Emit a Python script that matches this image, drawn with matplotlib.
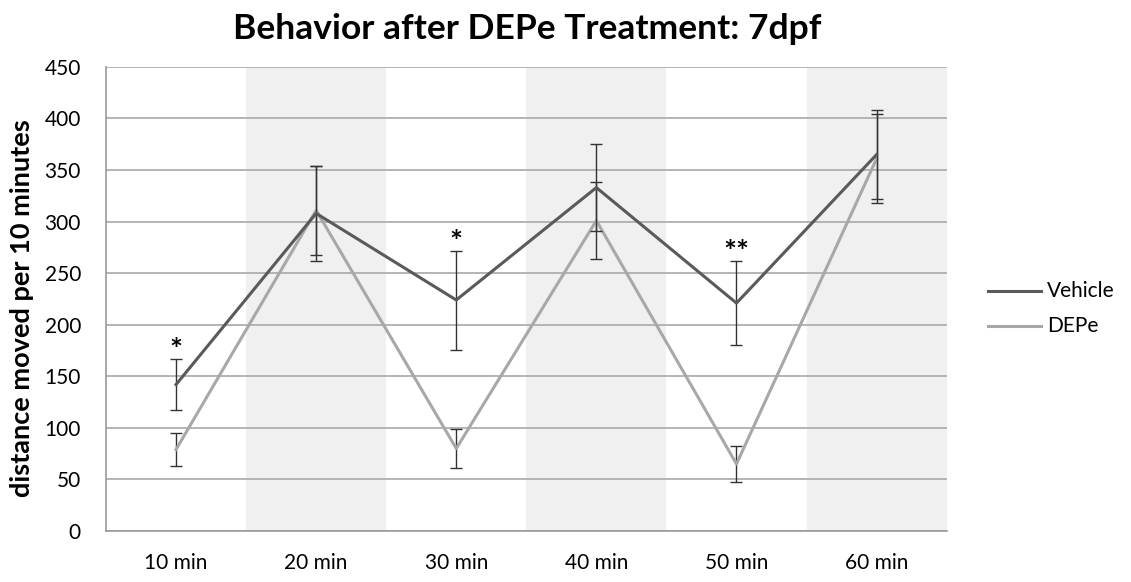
import matplotlib
matplotlib.use("Agg")
import matplotlib.pyplot as plt
from matplotlib.lines import Line2D
import numpy as np

categories = ["10 min", "20 min", "30 min", "40 min", "50 min", "60 min"]
vehicle = [142, 308, 224, 333, 221, 365]
vehicle_err = [25, 46, 48, 42, 41, 43]
depe = [79, 311, 80, 301, 65, 361]
depe_err = [16, 43, 19, 37, 17, 43]
stars = {0: "*", 2: "*", 4: "**"}
yticks = [0, 50, 100, 150, 200, 250, 300, 350, 400, 450]
series_names = ["Vehicle", "DEPe"]
series_colors = ["#5a5a5a", "#a8a8a8"]

plt.rcParams['font.family'] = ['Lato', 'DejaVu Sans']

fig = plt.figure(figsize=(11.31, 5.82), dpi=100)
ax = fig.add_axes([0.0937, 0.0876, 0.7433, 0.7974])

x = np.arange(len(categories))
ax.set_xlim(-0.5, len(categories) - 0.5)
ax.set_ylim(0, 450)

for i in range(1, len(categories), 2):
    ax.axvspan(i - 0.5, i + 0.5, color="#f0f0f0", zorder=0, lw=0)

ax.set_yticks(yticks)
ax.yaxis.grid(True, color="#a8a8a8", lw=1.2, zorder=1)
ax.set_axisbelow(True)

ax.errorbar(x, vehicle, yerr=vehicle_err, color=series_colors[0], lw=2.2,
            ecolor="#333333", elinewidth=1.0, capsize=4.5, capthick=1.0,
            zorder=3)
ax.errorbar(x, depe, yerr=depe_err, color=series_colors[1], lw=2.2,
            ecolor="#333333", elinewidth=1.0, capsize=4.5, capthick=1.0,
            zorder=2)

for i, s in stars.items():
    ax.text(x[i], vehicle[i] + vehicle_err[i] - 6, s, ha="center", va="bottom",
            fontsize=22, fontweight="bold", color="black", zorder=4)

ax.set_xticks(x)
ax.set_xticklabels(categories, fontsize=15)
ax.tick_params(axis="y", labelsize=15, length=0, pad=18)
ax.tick_params(axis="x", length=0, pad=16)

for s in ["top", "right"]:
    ax.spines[s].set_visible(False)
for s in ["left", "bottom"]:
    ax.spines[s].set_color("#9a9a9a")
    ax.spines[s].set_linewidth(1.2)

ax.set_ylabel("distance moved per 10 minutes", fontsize=19.5, fontweight="bold")
ax.yaxis.set_label_coords(-0.086, 0.48)
fig.suptitle("Behavior after DEPe Treatment: 7dpf", fontsize=25.5, fontweight="bold",
             x=0.466, y=0.978)

# legend (plain lines, as in the reference)
leg_y = [1 - 291 / 582, 1 - 326 / 582]
for name, col, yy in zip(series_names, series_colors, leg_y):
    fig.add_artist(Line2D([988 / 1131, 1041 / 1131], [yy, yy], color=col, lw=2.2,
                          transform=fig.transFigure))
    fig.text(1047 / 1131, yy, name, fontsize=15, va="center", ha="left")

fig.savefig("out.png", dpi=100)
